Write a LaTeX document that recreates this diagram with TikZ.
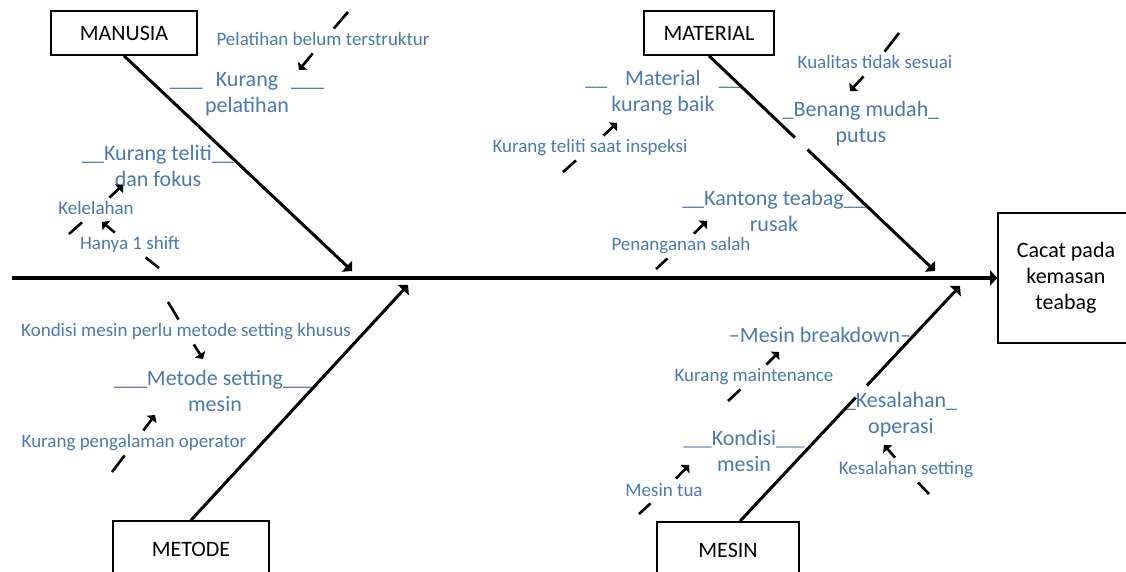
\documentclass[tikz,border=0pt]{standalone}
\usepackage{fontspec}
\setmainfont{Carlito}
\usepackage{xcolor}
\usetikzlibrary{arrows.meta}
\definecolor{fishblue}{HTML}{4A79B0}
\newcommand{\causefont}{\fontsize{11}{13}\selectfont}
\newcommand{\subfont}{\fontsize{9.5}{11.5}\selectfont}
\tikzset{
    category/.style={draw, line width=0.8pt, inner sep=0pt, font=\causefont},
    cause/.style={text=fishblue, font=\causefont, align=center, inner sep=0pt},
    subcause/.style={text=fishblue, font=\subfont, text height=7pt, text depth=2pt, inner xsep=2pt, inner ysep=1.5pt},
    bone/.style={line width=1.5pt, -{Triangle[length=3.5pt,width=7.5pt]}},
    subarrow/.style={line width=1.3pt, -{Triangle[length=2.8pt,width=6pt]}}
}

\begin{document}
\begin{tikzpicture}[x=0.5pt, y=-0.5pt]
    \useasboundingbox (0,0) rectangle (1126,572);

    \node[category, minimum width=73pt, minimum height=22pt] (man) at (124,33) {MANUSIA};
    \node[category, minimum width=65pt, minimum height=22pt] (mat) at (709,33) {MATERIAL};
    \node[category, minimum width=78pt, minimum height=28pt] (met) at (191,549) {METODE};
    \node[category, minimum width=71pt, minimum height=28pt] (mes) at (728,550) {MESIN};
    \node[category, minimum width=68pt, minimum height=65pt, align=center] (eff) at (1066,278) {
        Cacat pada\\kemasan\\teabag
    };

    \coordinate (tail) at (12,278);
    \coordinate (manT) at (352,271);
    \coordinate (matT) at (935,271);
    \coordinate (metT) at (408,285);
    \coordinate (mesT) at (960,286);

    \node[cause] (c1) at (247,94) {\_\_\_\hspace{6.5pt}Kurang\hspace{6.5pt}\_\_\_\\pelatihan};
    \node[cause] (c2) at (158,166) {\_\_Kurang teliti\_\_\\dan fokus};
    \node[cause] (c3) at (663,93) {\_\_\hspace{9pt}Material\hspace{9pt}\_\_\\kurang baik};
    \node[cause] (c4) at (861,124) {\_Benang mudah\_\\putus};
    \node[cause] (c5) at (774,211) {\_\_Kantong teabag\_\_\\rusak};
    \node[cause] (c6) at (215,391) {\_\_\_Metode setting\_\_\_\\mesin};
    \node[cause] (c7) at (820,335) {--Mesin breakdown--};
    \node[cause] (c8) at (744,451) {{\subfont\_\_\_}Kondisi{\subfont\_\_\_}\\mesin};
    \node[cause] (c9) at (901,415) {\_Kesalahan\_\\operasi};

    \node[subcause] (s1) at (323,41) {Pelatihan belum terstruktur};
    \node[subcause] (s2) at (96,210) {Kelelahan};
    \node[subcause] (s3) at (130,245) {Hanya 1 shift};
    \node[subcause] (s4) at (590,148) {Kurang teliti saat inspeksi};
    \node[subcause] (s5) at (875,64) {Kualitas tidak sesuai};
    \node[subcause] (s6) at (681,246) {Penanganan salah};
    \node[subcause] (s7) at (186,332) {Kondisi mesin perlu metode setting khusus};
    \node[subcause] (s8) at (134,443) {Kurang pengalaman operator};
    \node[subcause] (s9) at (754,377) {Kurang maintenance};
    \node[subcause] (s10) at (664,491) {Mesin tua};
    \node[subcause] (s11) at (906,470) {Kesalahan setting};

    \coordinate (s1t) at (348,12);   \coordinate (s1h) at (299,70);
    \coordinate (s2t) at (69,234);   \coordinate (s2h) at (123,185);
    \coordinate (s3t) at (159,268);  \coordinate (s3h) at (102,222);
    \coordinate (s4t) at (563,172);  \coordinate (s4h) at (617,123);
    \coordinate (s5t) at (899,33);   \coordinate (s5h) at (850,91);
    \coordinate (s6t) at (656,269);  \coordinate (s6h) at (707,221);
    \coordinate (s7t) at (168,302);  \coordinate (s7h) at (203,359);
    \coordinate (s8t) at (112,472);  \coordinate (s8h) at (155,415);
    \coordinate (s9t) at (728,401);  \coordinate (s9h) at (779,352);
    \coordinate (s10t) at (639,514); \coordinate (s10h) at (689,465);
    \coordinate (s11t) at (929,494); \coordinate (s11h) at (884,445);

    \draw[line width=1.6pt, -{Triangle[length=3.5pt,width=7.5pt]}] (tail) -- (eff);
    \draw[bone] (man.south) -- (manT);
    \draw[bone, dash pattern=on 59.3pt off 8.7pt on 200pt off 1pt] (mat.south) -- (matT);
    \draw[bone] (met.north) -- (metT);
    \draw[bone, dash pattern=on 84.7pt off 8.2pt on 200pt off 1pt] ([xshift=6pt]mes.north) -- (mesT);

    \draw[subarrow] (s1t) -- (s1) -- (s1h);
    \draw[subarrow] (s2t) -- (s2) -- (s2h);
    \draw[subarrow] (s3t) -- (s3) -- (s3h);
    \draw[subarrow] (s4t) -- (s4) -- (s4h);
    \draw[subarrow] (s5t) -- (s5) -- (s5h);
    \draw[subarrow] (s6t) -- (s6) -- (s6h);
    \draw[subarrow] (s7t) -- (s7) -- (s7h);
    \draw[subarrow] (s8t) -- (s8) -- (s8h);
    \draw[subarrow] (s9t) -- (s9) -- (s9h);
    \draw[subarrow] (s10t) -- (s10) -- (s10h);
    \draw[subarrow] (s11t) -- (s11) -- (s11h);
\end{tikzpicture}
\end{document}
